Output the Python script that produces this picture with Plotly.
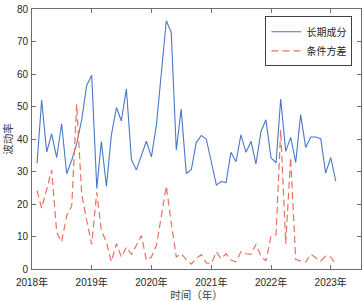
import pandas as pd
import plotly.graph_objects as go

dates = pd.date_range("2018-02-01", "2023-02-01", freq="MS")

long_term = [32.5, 52.0, 36.0, 41.6, 34.3, 44.7, 29.3, 33.5, 38.5, 46.0, 56.5, 59.6,
             24.8, 39.2, 25.4, 41.2, 49.7, 45.6, 55.4, 33.6, 30.5, 35.0, 39.3, 34.5,
             44.5, 60.0, 76.4, 72.8, 36.6, 49.2, 29.4, 30.6, 38.9, 41.1, 40.0, 33.0,
             25.8, 26.9, 26.6, 35.9, 33.0, 41.3, 35.9, 39.3, 32.3, 42.4, 45.9, 34.2,
             32.7, 52.3, 36.2, 40.5, 32.8, 47.5, 37.4, 40.6, 40.6, 40.1, 29.5, 34.3, 27.0]

cond_var = [24.1, 18.7, 24.5, 30.5, 11.3, 8.3, 16.4, 19.4, 50.7, 23.0, 15.0, 7.6,
            23.6, 11.8, 8.3, 2.3, 7.8, 3.7, 6.7, 4.5, 7.3, 10.3, 2.7, 3.7,
            7.3, 15.9, 25.5, 14.3, 3.7, 4.7, 2.9, 1.5, 3.2, 4.4, 1.9, 1.7,
            5.3, 3.2, 4.7, 2.7, 2.2, 5.3, 4.7, 4.5, 7.6, 3.9, 2.5, 10.1,
            10.6, 42.8, 7.8, 34.3, 2.9, 2.5, 2.1, 4.5, 3.4, 2.5, 4.0, 3.7, 1.4]

year_ticks = ["2018-01-01", "2019-01-01", "2020-01-01", "2021-01-01", "2022-01-01", "2023-01-01"]
year_labels = ["2018年", "2019年", "2020年", "2021年", "2022年", "2023年"]
y_ticks = [0, 10, 20, 30, 40, 50, 60, 70, 80]

tick_font = dict(family="Liberation Sans, Noto Sans CJK SC", size=10, color="#262626")

fig = go.Figure()
fig.add_trace(go.Scatter(x=dates, y=long_term, mode="lines", name="长期成分",
                         line=dict(color="#4A77C7", width=1.1)))
fig.add_trace(go.Scatter(x=dates, y=cond_var, mode="lines", name="条件方差",
                         line=dict(color="#E5735F", width=1.2, dash="7px,4px")))

axis_common = dict(showline=True, linecolor="#6e6e6e", linewidth=1, mirror="ticks",
                   ticks="inside", ticklen=4, tickcolor="#6e6e6e", showgrid=False,
                   zeroline=False, ticklabeloverflow="allow", tickfont=tick_font)

fig.update_xaxes(range=["2018-01-01", "2023-07-05"], tickvals=year_ticks, ticktext=year_labels,
                 ticklabelstandoff=4,
                 title=dict(text="时间（年）", font=dict(family="Noto Sans CJK SC", size=10.5, color="#404040"),
                            standoff=2),
                 **axis_common)
fig.update_yaxes(range=[y_ticks[0], y_ticks[-1]], tickvals=y_ticks, ticklabelstandoff=1,
                 title=dict(text="波动率", font=dict(family="Noto Sans CJK SC", size=10.5, color="#404040"),
                            standoff=6),
                 **axis_common)

fig.update_layout(
    width=363, height=302,
    margin=dict(l=32, r=2, t=9, b=33, autoexpand=False),
    paper_bgcolor="white", plot_bgcolor="white",
    legend=dict(x=0.974, y=0.972, xanchor="right", yanchor="top",
                bgcolor="white", bordercolor="#404040", borderwidth=1,
                font=dict(family="Noto Sans CJK SC", size=10, color="#262626"),
                tracegroupgap=0, itemwidth=30),
    showlegend=True,
)

fig.write_html("out.html", config={"displayModeBar": False},
               post_script="document.body.style.margin='0';document.body.style.overflow='hidden';")
